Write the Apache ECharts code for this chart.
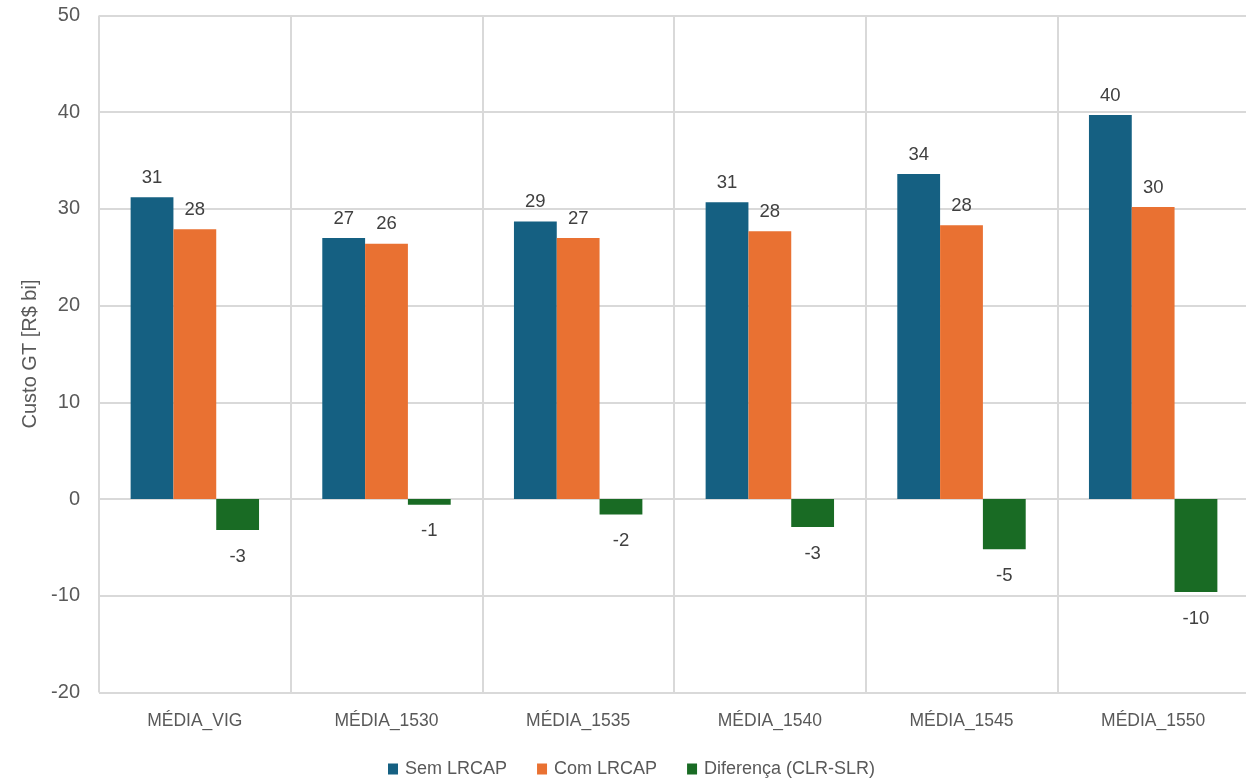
<!DOCTYPE html>
<html>
<head>
<meta charset="utf-8">
<script src="https://cdn.jsdelivr.net/npm/echarts@6/dist/echarts.min.js"></script>
<style>
html,body{margin:0;padding:0;background:#fff;}
#chart{width:1246px;height:779px;}
</style>
</head>
<body>
<div id="chart"></div>
<script>
const categories = ['MÉDIA_VIG', 'MÉDIA_1530', 'MÉDIA_1535', 'MÉDIA_1540', 'MÉDIA_1545', 'MÉDIA_1550'];
const semLRCAP = [31.2, 27.0, 28.7, 30.7, 33.6, 39.7];
const comLRCAP = [27.9, 26.4, 27.0, 27.7, 28.3, 30.2];
const diferenca = [-3.2, -0.6, -1.6, -2.9, -5.2, -9.6];
const seriesNames = ['Sem LRCAP', 'Com LRCAP', 'Diferença (CLR-SLR)'];
const yTicks = { min: -20, max: 50, interval: 10 };

const FONT = '"Liberation Sans", Arial, sans-serif';
const colors = ['#156082', '#E97132', '#196B24'];

const labelCfg = (pos, dist) => ({
  show: true,
  position: pos,
  distance: dist,
  color: '#404040',
  fontFamily: FONT,
  fontSize: 18.5,
  formatter: p => String(Math.round(p.value))
});

const chart = echarts.init(document.getElementById('chart'), null, { renderer: 'canvas' });
chart.setOption({
  animation: false,
  backgroundColor: '#ffffff',
  textStyle: { fontFamily: FONT },
  grid: { left: 99, top: 15.5, width: 1150, height: 677, containLabel: false, outerBoundsMode: 'none' },
  legend: {
    data: seriesNames,
    left: 388,
    top: 760,
    padding: 0,
    itemWidth: 10,
    itemHeight: 11,
    itemGap: 30,
    icon: 'rect',
    textStyle: { color: '#595959', fontSize: 18, fontFamily: FONT, padding: [0, 0, 0, 2] }
  },
  xAxis: {
    type: 'category',
    data: categories,
    axisLine: { show: false },
    axisTick: { show: false },
    axisLabel: { color: '#595959', fontSize: 17.5, fontFamily: FONT, margin: 20, interval: 0 },
    splitLine: { show: true, interval: 0, lineStyle: { color: '#d9d9d9', width: 2 } }
  },
  yAxis: {
    type: 'value',
    min: yTicks.min,
    max: yTicks.max,
    interval: yTicks.interval,
    name: 'Custo GT [R$ bi]',
    nameLocation: 'middle',
    nameRotate: 90,
    nameGap: 59,
    nameTextStyle: { color: '#595959', fontSize: 20, fontFamily: FONT },
    axisLine: { show: false },
    axisTick: { show: false },
    axisLabel: { color: '#595959', fontSize: 20, fontFamily: FONT, margin: 19 },
    splitLine: { show: true, lineStyle: { color: '#d9d9d9', width: 2 } }
  },
  series: [
    { name: seriesNames[0], type: 'bar', data: semLRCAP, itemStyle: { color: colors[0] },
      barGap: '0%', barCategoryGap: '33%', label: labelCfg('top', 10) },
    { name: seriesNames[1], type: 'bar', data: comLRCAP, itemStyle: { color: colors[1] },
      barGap: '0%', barCategoryGap: '33%', label: labelCfg('top', 10) },
    { name: seriesNames[2], type: 'bar', data: diferenca, itemStyle: { color: colors[2] },
      barGap: '0%', barCategoryGap: '33%', label: labelCfg('bottom', 17) }
  ]
});
</script>
</body>
</html>
